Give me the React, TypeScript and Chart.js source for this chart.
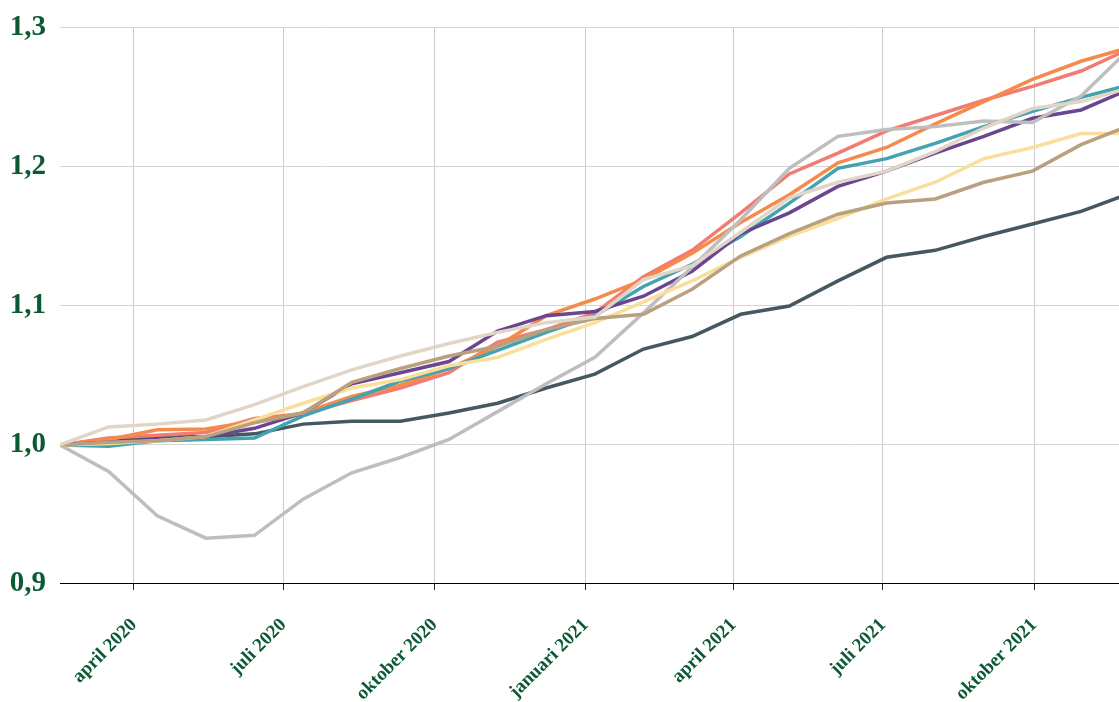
import React, { useEffect, useRef } from 'react';
import { Chart, registerables } from 'chart.js';

Chart.register(...registerables);

// Tick labels (month starts) and their dates
const tickLabels = ['april 2020', 'juli 2020', 'oktober 2020', 'januari 2021', 'april 2021', 'juli 2021', 'oktober 2021'];
const tickDates = ['2020-04-01', '2020-07-01', '2020-10-01', '2021-01-01', '2021-04-01', '2021-07-01', '2021-10-01'];
const firstPointDate = '2020-02-16';
const periodDays = 29.6;
const xMax = 21.78;

// Series values (index 0 = first period)
const grijs = [1.0, 0.981, 0.949, 0.933, 0.935, 0.961, 0.98, 0.991, 1.004, 1.024, 1.044, 1.063, 1.095, 1.128, 1.162, 1.199, 1.222, 1.227, 1.229, 1.233, 1.232, 1.251, 1.285];
const leisteen = [1.0, 1.004, 1.006, 1.006, 1.008, 1.015, 1.017, 1.017, 1.023, 1.03, 1.041, 1.051, 1.069, 1.078, 1.094, 1.1, 1.118, 1.135, 1.14, 1.15, 1.159, 1.168, 1.181];
const zand = [1.0, 1.013, 1.015, 1.018, 1.029, 1.042, 1.054, 1.064, 1.073, 1.081, 1.088, 1.092, 1.119, 1.129, 1.153, 1.178, 1.189, 1.197, 1.211, 1.228, 1.242, 1.247, 1.257];
const bruin = [1.0, 1.002, 1.003, 1.006, 1.016, 1.023, 1.045, 1.055, 1.064, 1.071, 1.083, 1.091, 1.094, 1.112, 1.136, 1.152, 1.166, 1.174, 1.177, 1.189, 1.197, 1.216, 1.23];
const geel = [1.0, 1.001, 1.003, 1.006, 1.018, 1.03, 1.041, 1.047, 1.057, 1.063, 1.076, 1.088, 1.103, 1.118, 1.135, 1.15, 1.163, 1.177, 1.189, 1.206, 1.214, 1.224, 1.224];
const paars = [1.0, 1.002, 1.004, 1.006, 1.012, 1.023, 1.044, 1.052, 1.06, 1.082, 1.093, 1.096, 1.107, 1.125, 1.152, 1.167, 1.186, 1.197, 1.21, 1.222, 1.235, 1.241, 1.256];
const blauwgroen = [1.0, 0.999, 1.003, 1.004, 1.005, 1.021, 1.033, 1.046, 1.055, 1.068, 1.081, 1.093, 1.114, 1.13, 1.15, 1.174, 1.199, 1.206, 1.217, 1.229, 1.24, 1.25, 1.259];
const oranje = [1.0, 1.004, 1.011, 1.0115, 1.017, 1.023, 1.035, 1.043, 1.055, 1.071, 1.093, 1.105, 1.119, 1.138, 1.16, 1.18, 1.203, 1.214, 1.231, 1.247, 1.263, 1.276, 1.286];
const zalm = [1.0, 1.005, 1.007, 1.009, 1.019, 1.0225, 1.032, 1.041, 1.052, 1.074, 1.083, 1.095, 1.121, 1.14, 1.167, 1.195, 1.21, 1.226, 1.237, 1.248, 1.258, 1.269, 1.285];

const yTicks = [0.9, 1.0, 1.1, 1.2, 1.3];

const DAY = 86400000;
const tickPositions = tickDates.map(
  (d) => (Date.parse(d) - Date.parse(firstPointDate)) / (periodDays * DAY)
);

const toPoints = (arr: number[]) => arr.map((v, i) => ({ x: i, y: v }));

const GREEN = '#0b5a33';
const FONT = '"Liberation Serif", "Times New Roman", serif';

export default function App() {
  const ref = useRef<HTMLCanvasElement | null>(null);

  useEffect(() => {
    if (!ref.current) return;
    const series = [
      { label: 'zand', data: zand, color: '#e1d5c7' },
      { label: 'bruin', data: bruin, color: '#b9a07e' },
      { label: 'geel', data: geel, color: '#f9df9b' },
      { label: 'grijs', data: grijs, color: '#bebebe' },
      { label: 'paars', data: paars, color: '#6a4590' },
      { label: 'blauwgroen', data: blauwgroen, color: '#42a3b1' },
      { label: 'oranje', data: oranje, color: '#f68a4a' },
      { label: 'zalm', data: zalm, color: '#f07c72' },
      { label: 'leisteen', data: leisteen, color: '#46585f' },
    ];
    const chart = new Chart(ref.current, {
      type: 'line',
      data: {
        datasets: series.map((s) => ({
          label: s.label,
          data: toPoints(s.data),
          borderColor: s.color,
          backgroundColor: s.color,
          borderWidth: 3.5,
          pointRadius: 0,
          tension: 0,
          fill: false,
        })),
      },
      options: {
        animation: false,
        responsive: false,
        devicePixelRatio: 1,
        layout: { padding: { top: 0, left: 0, right: 0, bottom: 0 } },
        plugins: { legend: { display: false }, tooltip: { enabled: false } },
        scales: {
          x: {
            type: 'linear',
            min: 0,
            max: xMax,
            afterBuildTicks: (scale: any) => {
              scale.ticks = tickPositions.map((v) => ({ value: v }));
            },
            afterFit: (scale: any) => {
              scale.height = 118;
            },
            grid: {
              color: '#cccccc',
              lineWidth: 1,
              drawTicks: true,
              tickLength: 6,
              tickColor: '#222222',
            },
            border: { display: true, color: '#000000', width: 1 },
            ticks: {
              autoSkip: false,
              minRotation: 45,
              maxRotation: 45,
              padding: 24,
              color: GREEN,
              font: { family: FONT, weight: 'bold', size: 19 },
              callback: (_v: any, i: number) => tickLabels[i],
            },
          },
          y: {
            type: 'linear',
            min: 0.9,
            max: 1.3,
            afterBuildTicks: (scale: any) => {
              scale.ticks = yTicks.map((v) => ({ value: v }));
            },
            afterFit: (scale: any) => {
              scale.width = 60;
            },
            grid: { color: '#d4d4d4', lineWidth: 1, drawTicks: false },
            border: { display: false },
            ticks: {
              padding: 14,
              color: GREEN,
              font: { family: FONT, weight: 'bold', size: 29, lineHeight: 0.96 },
              callback: (v: any) => Number(v).toFixed(1).replace('.', ','),
            },
          },
        },
      },
    });
    return () => chart.destroy();
  }, []);

  return (
    <div style={{ position: 'absolute', left: 0, top: 0, width: 1119, height: 702, background: '#fff' }}>
      <canvas ref={ref} width={1119} height={702} />
    </div>
  );
}
